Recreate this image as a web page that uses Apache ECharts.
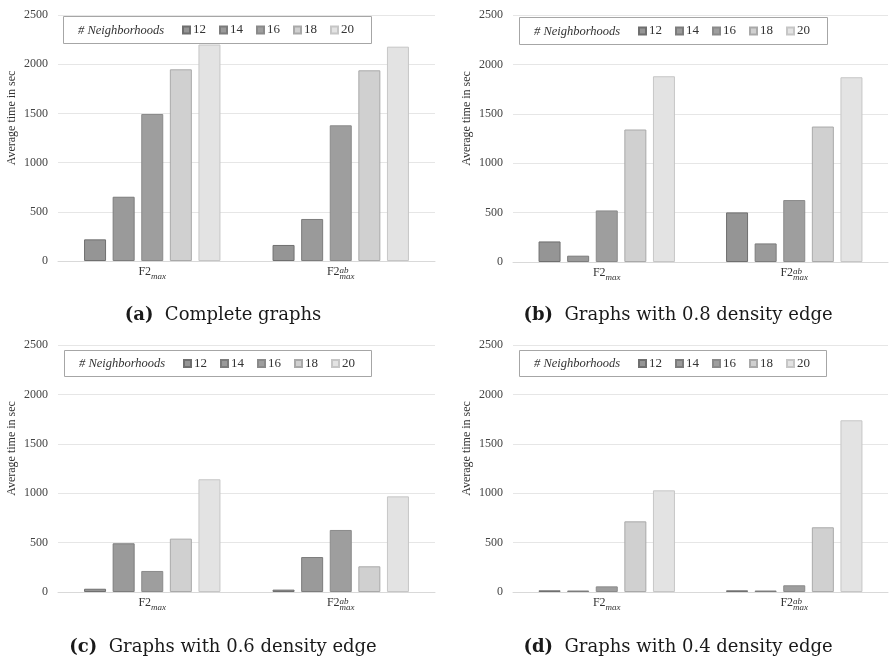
<!DOCTYPE html>
<html>
<head>
<meta charset="utf-8">
<script src="https://cdn.jsdelivr.net/npm/echarts@6/dist/echarts.min.js"></script>
<style>
html,body{margin:0;padding:0;background:#fff;}
#chart{width:889px;height:659px;}
</style>
</head>
<body>
<div id="chart"></div>
<script>
// ---- data ----
const categories = ['F2max', 'F2abmax'];
const seriesNames = ['12', '14', '16', '18', '20'];
const yTicks = [0, 500, 1000, 1500, 2000, 2500];
const captions = [
  ['(a)', 'Complete graphs'],
  ['(b)', 'Graphs with 0.8 density edge'],
  ['(c)', 'Graphs with 0.6 density edge'],
  ['(d)', 'Graphs with 0.4 density edge']
];
// panel (a) complete graphs
const a12 = [220, 163];
const a14 = [653, 427];
const a16 = [1494, 1379];
const a18 = [1948, 1938];
const a20 = [2200, 2178];
// panel (b) 0.8 density
const b12 = [208, 502];
const b14 = [64, 188];
const b16 = [522, 627];
const b18 = [1341, 1371];
const b20 = [1880, 1870];
// panel (c) 0.6 density
const c12 = [33, 24];
const c14 = [493, 354];
const c16 = [213, 628];
const c18 = [540, 260];
const c20 = [1141, 968];
// panel (d) 0.4 density
const d12 = [17, 17];
const d14 = [15, 15];
const d16 = [57, 68];
const d18 = [715, 655];
const d20 = [1029, 1738];

const panelData = [
  [a12, a14, a16, a18, a20],
  [b12, b14, b16, b18, b20],
  [c12, c14, c16, c18, c20],
  [d12, d14, d16, d18, d20]
];

// ---- styles ----
const fills = ['#959595', '#9a9a9a', '#9e9e9e', '#d0d0d0', '#e3e3e3'];
const borders = ['#6f6f6f', '#7c7c7c', '#8a8a8a', '#a9a9a9', '#c6c6c6'];
const serif = 'Liberation Serif';
const capFont = 'DejaVu Serif';

const grids = [
  {left: 58, top: 15, width: 377, height: 246},
  {left: 513, top: 15, width: 375, height: 247},
  {left: 58, top: 345, width: 377, height: 247},
  {left: 513, top: 345, width: 375, height: 247}
];
const legendBoxes = [
  {x: 63, y: 16, w: 308, h: 27},
  {x: 519, y: 17, w: 308, h: 27},
  {x: 64, y: 350, w: 307, h: 26},
  {x: 519, y: 350, w: 307, h: 26}
];
const captionPos = [
  {x: 223, y: 306}, {x: 678, y: 306}, {x: 223, y: 638}, {x: 678, y: 638}
];

const option = {
  backgroundColor: '#fff',
  animation: false,
  title: [],
  grid: [],
  xAxis: [],
  yAxis: [],
  legend: [],
  series: [],
  graphic: []
};

grids.forEach((g, i) => {
  option.grid.push(Object.assign({containLabel: false}, g));
  option.xAxis.push({
    type: 'category',
    gridIndex: i,
    data: categories,
    axisLine: {lineStyle: {color: '#d9d9d9', width: 1}},
    axisTick: {show: false},
    axisLabel: {
      margin: 2,
      formatter: v => v === 'F2max' ? '{m|F2}{s|max}' : '{m|F2}{u|ab}{s|max}',
      rich: {
        m: {fontFamily: serif, fontSize: 12, color: '#333', lineHeight: 18, verticalAlign: 'middle', align: 'left'},
        s: {fontFamily: serif, fontSize: 9, fontStyle: 'italic', color: '#333', verticalAlign: 'bottom', lineHeight: 12, align: 'left'},
        u: {fontFamily: serif, fontSize: 9, fontStyle: 'italic', color: '#333', verticalAlign: 'top', lineHeight: 12, width: 0, align: 'left', padding: [3, 0, 0, 0]}
      }
    }
  });
  option.yAxis.push({
    type: 'value',
    gridIndex: i,
    min: yTicks[0],
    max: yTicks[yTicks.length - 1],
    interval: yTicks[1] - yTicks[0],
    name: 'Average time in sec',
    nameLocation: 'middle',
    nameRotate: 90,
    nameGap: 40,
    nameTextStyle: {fontFamily: serif, fontSize: 12, color: '#333', padding: [0, 0, 0, 40]},
    axisLine: {show: false},
    axisTick: {show: false},
    axisLabel: {fontFamily: serif, fontSize: 12, color: '#444', margin: 10, formatter: v => String(v)},
    splitLine: {lineStyle: {color: '#e6e6e6', width: 1}}
  });
  panelData[i].forEach((vals, k) => {
    option.series.push({
      type: 'bar',
      name: seriesNames[k],
      xAxisIndex: i,
      yAxisIndex: i,
      data: vals,
      barWidth: 22,
      barGap: '30%',
      itemStyle: {color: fills[k], borderColor: borders[k], borderWidth: 1},
      z: 2
    });
  });
  const lb = legendBoxes[i];
  option.graphic.push({
    type: 'rect',
    z: 10,
    shape: {x: lb.x + 0.5, y: lb.y + 0.5, width: lb.w, height: lb.h},
    style: {fill: '#fff', stroke: '#a6a6a6', lineWidth: 1}
  });
  option.graphic.push({
    type: 'text',
    z: 11,
    x: lb.x + 15,
    y: lb.y + lb.h / 2 + 1,
    style: {
      text: '# Neighborhoods',
      fontFamily: serif, fontSize: 12.5, fontStyle: 'italic', fill: '#333',
      verticalAlign: 'middle'
    }
  });
  option.legend.push({
    data: seriesNames.map(n => ({name: n, icon: 'rect'})),
    left: lb.x + 119,
    top: lb.y + lb.h / 2 - 6,
    itemWidth: 7,
    itemHeight: 7,
    itemGap: 13,
    padding: 0,
    selectedMode: false,
    z: 12,
    textStyle: {fontFamily: serif, fontSize: 13, color: '#333', padding: [0, 0, 0, -2]}
  });
  const cp = captionPos[i];
  option.title.push({
    text: '{b|' + captions[i][0] + '}  ' + captions[i][1],
    left: cp.x,
    top: cp.y,
    textAlign: 'center',
    padding: 0,
    textStyle: {
      fontFamily: capFont, fontSize: 18, fontWeight: 'normal', color: '#1a1a1a',
      rich: {b: {fontFamily: capFont, fontSize: 18, fontWeight: 'bold', color: '#1a1a1a'}}
    }
  });
});

const chart = echarts.init(document.getElementById('chart'), null, {renderer: 'canvas'});
chart.setOption(option);
</script>
</body>
</html>
